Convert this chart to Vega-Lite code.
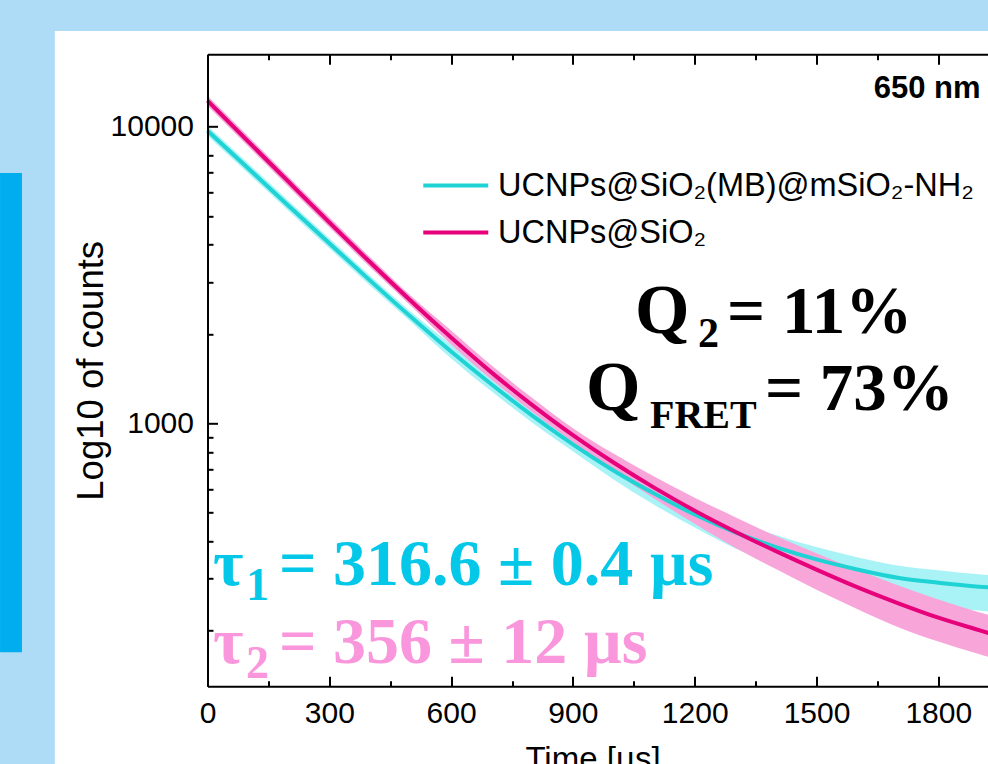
{
  "$schema": "https://vega.github.io/schema/vega-lite/v6.json",
  "width": 812,
  "height": 632,
  "autosize": {"type": "none"},
  "padding": {"left": 207.5, "top": 54.3, "right": -31.5, "bottom": 77.7},
  "background": "#aedcf7",
  "config": {"view": {"stroke": null}, "font": "Liberation Sans"},
  "datasets": {
    "fits": [
      {"t": 0, "sample": "UCNPs@SiO₂(MB)@mSiO₂-NH₂", "counts": 9694},
      {"t": 100, "sample": "UCNPs@SiO₂(MB)@mSiO₂-NH₂", "counts": 7239},
      {"t": 200, "sample": "UCNPs@SiO₂(MB)@mSiO₂-NH₂", "counts": 5408},
      {"t": 300, "sample": "UCNPs@SiO₂(MB)@mSiO₂-NH₂", "counts": 4045},
      {"t": 400, "sample": "UCNPs@SiO₂(MB)@mSiO₂-NH₂", "counts": 3034},
      {"t": 500, "sample": "UCNPs@SiO₂(MB)@mSiO₂-NH₂", "counts": 2291},
      {"t": 600, "sample": "UCNPs@SiO₂(MB)@mSiO₂-NH₂", "counts": 1746},
      {"t": 700, "sample": "UCNPs@SiO₂(MB)@mSiO₂-NH₂", "counts": 1352},
      {"t": 800, "sample": "UCNPs@SiO₂(MB)@mSiO₂-NH₂", "counts": 1062},
      {"t": 900, "sample": "UCNPs@SiO₂(MB)@mSiO₂-NH₂", "counts": 850},
      {"t": 1000, "sample": "UCNPs@SiO₂(MB)@mSiO₂-NH₂", "counts": 694},
      {"t": 1100, "sample": "UCNPs@SiO₂(MB)@mSiO₂-NH₂", "counts": 580},
      {"t": 1200, "sample": "UCNPs@SiO₂(MB)@mSiO₂-NH₂", "counts": 493},
      {"t": 1300, "sample": "UCNPs@SiO₂(MB)@mSiO₂-NH₂", "counts": 429},
      {"t": 1400, "sample": "UCNPs@SiO₂(MB)@mSiO₂-NH₂", "counts": 383},
      {"t": 1500, "sample": "UCNPs@SiO₂(MB)@mSiO₂-NH₂", "counts": 348},
      {"t": 1600, "sample": "UCNPs@SiO₂(MB)@mSiO₂-NH₂", "counts": 322},
      {"t": 1700, "sample": "UCNPs@SiO₂(MB)@mSiO₂-NH₂", "counts": 302},
      {"t": 1800, "sample": "UCNPs@SiO₂(MB)@mSiO₂-NH₂", "counts": 290.6},
      {"t": 1900, "sample": "UCNPs@SiO₂(MB)@mSiO₂-NH₂", "counts": 281.7},
      {"t": 1925, "sample": "UCNPs@SiO₂(MB)@mSiO₂-NH₂", "counts": 280},
      {"t": 0, "sample": "UCNPs@SiO₂", "counts": 12240},
      {"t": 100, "sample": "UCNPs@SiO₂", "counts": 8928},
      {"t": 200, "sample": "UCNPs@SiO₂", "counts": 6514},
      {"t": 300, "sample": "UCNPs@SiO₂", "counts": 4760},
      {"t": 400, "sample": "UCNPs@SiO₂", "counts": 3498},
      {"t": 500, "sample": "UCNPs@SiO₂", "counts": 2594},
      {"t": 600, "sample": "UCNPs@SiO₂", "counts": 1947},
      {"t": 700, "sample": "UCNPs@SiO₂", "counts": 1483},
      {"t": 800, "sample": "UCNPs@SiO₂", "counts": 1153},
      {"t": 900, "sample": "UCNPs@SiO₂", "counts": 913},
      {"t": 1000, "sample": "UCNPs@SiO₂", "counts": 738},
      {"t": 1100, "sample": "UCNPs@SiO₂", "counts": 607.5},
      {"t": 1200, "sample": "UCNPs@SiO₂", "counts": 508},
      {"t": 1300, "sample": "UCNPs@SiO₂", "counts": 431.6},
      {"t": 1400, "sample": "UCNPs@SiO₂", "counts": 371},
      {"t": 1500, "sample": "UCNPs@SiO₂", "counts": 321.5},
      {"t": 1600, "sample": "UCNPs@SiO₂", "counts": 280.6},
      {"t": 1700, "sample": "UCNPs@SiO₂", "counts": 248},
      {"t": 1800, "sample": "UCNPs@SiO₂", "counts": 221.4},
      {"t": 1900, "sample": "UCNPs@SiO₂", "counts": 201.1},
      {"t": 1925, "sample": "UCNPs@SiO₂", "counts": 196.4}
    ],
    "spread": [
      {"t": 0, "sample": "MB", "lo": 9325, "hi": 10078},
      {"t": 100, "sample": "MB", "lo": 6963, "hi": 7526},
      {"t": 200, "sample": "MB", "lo": 5202, "hi": 5622},
      {"t": 300, "sample": "MB", "lo": 3891, "hi": 4205},
      {"t": 400, "sample": "MB", "lo": 2918, "hi": 3154},
      {"t": 500, "sample": "MB", "lo": 2204, "hi": 2382},
      {"t": 600, "sample": "MB", "lo": 1654, "hi": 1844},
      {"t": 700, "sample": "MB", "lo": 1280, "hi": 1428},
      {"t": 800, "sample": "MB", "lo": 1005, "hi": 1121},
      {"t": 900, "sample": "MB", "lo": 805, "hi": 897},
      {"t": 1000, "sample": "MB", "lo": 647, "hi": 744},
      {"t": 1100, "sample": "MB", "lo": 532, "hi": 632},
      {"t": 1200, "sample": "MB", "lo": 446, "hi": 545},
      {"t": 1300, "sample": "MB", "lo": 379, "hi": 472},
      {"t": 1400, "sample": "MB", "lo": 333, "hi": 421},
      {"t": 1500, "sample": "MB", "lo": 298, "hi": 383},
      {"t": 1600, "sample": "MB", "lo": 271, "hi": 354},
      {"t": 1700, "sample": "MB", "lo": 251, "hi": 332},
      {"t": 1800, "sample": "MB", "lo": 241, "hi": 320},
      {"t": 1900, "sample": "MB", "lo": 234, "hi": 310},
      {"t": 1925, "sample": "MB", "lo": 232, "hi": 308},
      {"t": 0, "sample": "SiO2", "lo": 11774, "hi": 12725},
      {"t": 100, "sample": "SiO2", "lo": 8588, "hi": 9282},
      {"t": 200, "sample": "SiO2", "lo": 6266, "hi": 6772},
      {"t": 300, "sample": "SiO2", "lo": 4579, "hi": 4949},
      {"t": 400, "sample": "SiO2", "lo": 3365, "hi": 3637},
      {"t": 500, "sample": "SiO2", "lo": 2495, "hi": 2697},
      {"t": 600, "sample": "SiO2", "lo": 1844, "hi": 2056},
      {"t": 700, "sample": "SiO2", "lo": 1404, "hi": 1566},
      {"t": 800, "sample": "SiO2", "lo": 1092, "hi": 1217},
      {"t": 900, "sample": "SiO2", "lo": 865, "hi": 964},
      {"t": 1000, "sample": "SiO2", "lo": 688, "hi": 791},
      {"t": 1100, "sample": "SiO2", "lo": 558, "hi": 662},
      {"t": 1200, "sample": "SiO2", "lo": 459, "hi": 562},
      {"t": 1300, "sample": "SiO2", "lo": 381, "hi": 483},
      {"t": 1400, "sample": "SiO2", "lo": 323, "hi": 417},
      {"t": 1500, "sample": "SiO2", "lo": 275, "hi": 365},
      {"t": 1600, "sample": "SiO2", "lo": 237, "hi": 321},
      {"t": 1700, "sample": "SiO2", "lo": 206, "hi": 285},
      {"t": 1800, "sample": "SiO2", "lo": 184, "hi": 255},
      {"t": 1900, "sample": "SiO2", "lo": 167, "hi": 231},
      {"t": 1925, "sample": "SiO2", "lo": 163, "hi": 226}
    ]
  },
  "layer": [
    {
      "data": {"values": [{}]},
      "mark": {"type": "rect", "color": "#ffffff", "clip": false},
      "encoding": {
        "x": {"datum": -376, "type": "quantitative", "scale": {"domain": [0, 2000], "nice": false}, "axis": null},
        "x2": {"datum": 2100},
        "y": {"datum": 21000, "type": "quantitative", "scale": {"type": "log", "domain": [130, 17540], "nice": false}, "axis": null},
        "y2": {"datum": 50}
      }
    },
    {
      "data": {"values": [{}]},
      "mark": {"type": "rect", "color": "#00aeef", "clip": false},
      "encoding": {
        "x": {"datum": -511, "type": "quantitative", "axis": null},
        "x2": {"datum": -457},
        "y": {"datum": 6982, "type": "quantitative", "axis": null},
        "y2": {"datum": 169.4}
      }
    },
    {
      "data": {"name": "spread"},
      "transform": [{"filter": "datum.sample === 'MB'"}],
      "mark": {"type": "area", "color": "#a9f3f6", "opacity": 1, "interpolate": "monotone"},
      "encoding": {
        "x": {"field": "t", "type": "quantitative", "axis": null},
        "y": {"field": "lo", "type": "quantitative", "axis": null},
        "y2": {"field": "hi"}
      }
    },
    {
      "data": {"name": "spread"},
      "transform": [{"filter": "datum.sample === 'SiO2'"}],
      "mark": {"type": "area", "color": "#f8a6da", "opacity": 1, "interpolate": "monotone"},
      "encoding": {
        "x": {
          "field": "t", "type": "quantitative",
          "axis": {
            "orient": "top",
            "values": [0, 150, 300, 450, 600, 750, 900, 1050, 1200, 1350, 1500, 1650, 1800, 1950],
            "labels": false,
            "title": null,
            "grid": false,
            "domainColor": "#000000", "domainWidth": 2,
            "tickColor": "#000000", "tickWidth": 2,
            "tickSize": {"condition": {"test": "datum.value % 300 === 0", "value": -10}, "value": -5.5},
            "zindex": 1
          }
        },
        "y": {"field": "lo", "type": "quantitative", "axis": null},
        "y2": {"field": "hi"}
      }
    },
    {
      "data": {"name": "fits"},
      "mark": {"type": "line", "strokeWidth": 4, "interpolate": "monotone"},
      "encoding": {
        "x": {
          "field": "t", "type": "quantitative",
          "axis": {
            "orient": "bottom",
            "values": [0, 150, 300, 450, 600, 750, 900, 1050, 1200, 1350, 1500, 1650, 1800, 1950],
            "format": "d",
            "labelExpr": "datum.value % 300 === 0 ? datum.label : ''",
            "labelOverlap": false, "labelFlush": false,
            "labelFont": "Liberation Sans", "labelFontSize": 30, "labelColor": "#000000", "labelPadding": 22,
            "grid": false,
            "domainColor": "#000000", "domainWidth": 2,
            "tickColor": "#000000", "tickWidth": 2,
            "tickSize": {"condition": {"test": "datum.value % 300 === 0", "value": -10}, "value": -5.5},
            "title": "Time [µs]",
            "titleFont": "Liberation Sans", "titleFontSize": 33, "titleFontWeight": "normal", "titleColor": "#000000",
            "titlePadding": 11, "titleX": 385,
            "zindex": 1
          }
        },
        "y": {
          "field": "counts", "type": "quantitative",
          "axis": {
            "orient": "left",
            "values": [200, 300, 400, 500, 600, 700, 800, 900, 1000, 2000, 3000, 4000, 5000, 6000, 7000, 8000, 10000],
            "format": "d",
            "labelExpr": "datum.value === 1000 || datum.value === 10000 ? datum.label : ''",
            "labelOverlap": false, "labelFlush": false,
            "labelFont": "Liberation Sans", "labelFontSize": 30, "labelColor": "#000000", "labelPadding": 24,
            "grid": false,
            "domainColor": "#000000", "domainWidth": 2,
            "tickColor": "#000000", "tickWidth": 2,
            "tickSize": {"condition": {"test": "datum.value === 1000 || datum.value === 10000", "value": -10}, "value": -5.5},
            "title": "Log10 of counts",
            "titleFont": "Liberation Sans", "titleFontSize": 36.5, "titleFontWeight": "normal", "titleColor": "#000000",
            "titlePadding": 0,
            "zindex": 1
          }
        },
        "color": {
          "field": "sample", "type": "nominal",
          "scale": {"domain": ["UCNPs@SiO₂(MB)@mSiO₂-NH₂", "UCNPs@SiO₂"], "range": ["#1fd3d5", "#e6007a"]},
          "legend": {
            "orient": "none", "legendX": 232, "legendY": 115,
            "title": null,
            "symbolType": "M-4,0H4", "symbolSize": 264, "symbolStrokeWidth": 4,
            "labelFont": "Liberation Sans", "labelFontSize": 32.5, "labelColor": "#000000",
            "labelOffset": 26, "labelLimit": 700, "rowPadding": 14
          }
        }
      }
    },
    {
      "data": {"values": [{}]},
      "mark": {"type": "text", "text": "650 nm", "font": "Liberation Sans", "fontWeight": "bold", "fontSize": 31, "align": "left", "baseline": "alphabetic", "color": "#000000", "clip": false},
      "encoding": {"x": {"datum": 1641, "type": "quantitative", "axis": null}, "y": {"datum": 12497, "type": "quantitative", "axis": null}}
    },
    {
      "data": {"values": [{}]},
      "mark": {"type": "text", "text": "Q", "font": "Liberation Serif", "fontWeight": "bold", "fontSize": 70, "align": "left", "baseline": "alphabetic", "color": "#000000"},
      "encoding": {"x": {"datum": 1053, "type": "quantitative", "axis": null}, "y": {"datum": 2016, "type": "quantitative", "axis": null}}
    },
    {
      "data": {"values": [{}]},
      "mark": {"type": "text", "text": "2", "font": "Liberation Serif", "fontWeight": "bold", "fontSize": 42, "align": "left", "baseline": "alphabetic", "color": "#000000"},
      "encoding": {"x": {"datum": 1208, "type": "quantitative", "axis": null}, "y": {"datum": 1808, "type": "quantitative", "axis": null}}
    },
    {
      "data": {"values": [{}]},
      "mark": {"type": "text", "text": "= 11%", "font": "Liberation Serif", "fontWeight": "bold", "fontSize": 67, "align": "left", "baseline": "alphabetic", "color": "#000000"},
      "encoding": {"x": {"datum": 1279.5, "type": "quantitative", "axis": null}, "y": {"datum": 2016, "type": "quantitative", "axis": null}}
    },
    {
      "data": {"values": [{}]},
      "mark": {"type": "text", "text": "Q", "font": "Liberation Serif", "fontWeight": "bold", "fontSize": 70, "align": "left", "baseline": "alphabetic", "color": "#000000"},
      "encoding": {"x": {"datum": 932, "type": "quantitative", "axis": null}, "y": {"datum": 1109, "type": "quantitative", "axis": null}}
    },
    {
      "data": {"values": [{}]},
      "mark": {"type": "text", "text": "FRET", "font": "Liberation Serif", "fontWeight": "bold", "fontSize": 40, "align": "left", "baseline": "alphabetic", "color": "#000000"},
      "encoding": {"x": {"datum": 1089.8, "type": "quantitative", "axis": null}, "y": {"datum": 964.2, "type": "quantitative", "axis": null}}
    },
    {
      "data": {"values": [{}]},
      "mark": {"type": "text", "text": "= 73%", "font": "Liberation Serif", "fontWeight": "bold", "fontSize": 67, "align": "left", "baseline": "alphabetic", "color": "#000000"},
      "encoding": {"x": {"datum": 1373, "type": "quantitative", "axis": null}, "y": {"datum": 1109, "type": "quantitative", "axis": null}}
    },
    {
      "data": {"values": [{}]},
      "mark": {"type": "text", "text": "τ", "font": "Liberation Serif", "fontWeight": "bold", "fontSize": 66, "align": "left", "baseline": "alphabetic", "color": "#05c8e8"},
      "encoding": {"x": {"datum": 13.5, "type": "quantitative", "axis": null}, "y": {"datum": 284.9, "type": "quantitative", "axis": null}}
    },
    {
      "data": {"values": [{}]},
      "mark": {"type": "text", "text": "1", "font": "Liberation Serif", "fontWeight": "bold", "fontSize": 46, "align": "left", "baseline": "alphabetic", "color": "#05c8e8"},
      "encoding": {"x": {"datum": 95, "type": "quantitative", "axis": null}, "y": {"datum": 253.7, "type": "quantitative", "axis": null}}
    },
    {
      "data": {"values": [{}]},
      "mark": {"type": "text", "text": "= 316.6 ± 0.4 µs", "font": "Liberation Serif", "fontWeight": "bold", "fontSize": 66, "align": "left", "baseline": "alphabetic", "color": "#05c8e8"},
      "encoding": {"x": {"datum": 176, "type": "quantitative", "axis": null}, "y": {"datum": 284.9, "type": "quantitative", "axis": null}}
    },
    {
      "data": {"values": [{}]},
      "mark": {"type": "text", "text": "τ", "font": "Liberation Serif", "fontWeight": "bold", "fontSize": 66, "align": "left", "baseline": "alphabetic", "color": "#f996dc"},
      "encoding": {"x": {"datum": 13.5, "type": "quantitative", "axis": null}, "y": {"datum": 155.5, "type": "quantitative", "axis": null}}
    },
    {
      "data": {"values": [{}]},
      "mark": {"type": "text", "text": "2", "font": "Liberation Serif", "fontWeight": "bold", "fontSize": 46, "align": "left", "baseline": "alphabetic", "color": "#f996dc", "clip": false},
      "encoding": {"x": {"datum": 95, "type": "quantitative", "axis": null}, "y": {"datum": 138.4, "type": "quantitative", "axis": null}}
    },
    {
      "data": {"values": [{}]},
      "mark": {"type": "text", "text": "= 356 ± 12 µs", "font": "Liberation Serif", "fontWeight": "bold", "fontSize": 66, "align": "left", "baseline": "alphabetic", "color": "#f996dc"},
      "encoding": {"x": {"datum": 176, "type": "quantitative", "axis": null}, "y": {"datum": 155.5, "type": "quantitative", "axis": null}}
    }
  ],
  "resolve": {"axis": {"x": "independent", "y": "independent"}}
}
